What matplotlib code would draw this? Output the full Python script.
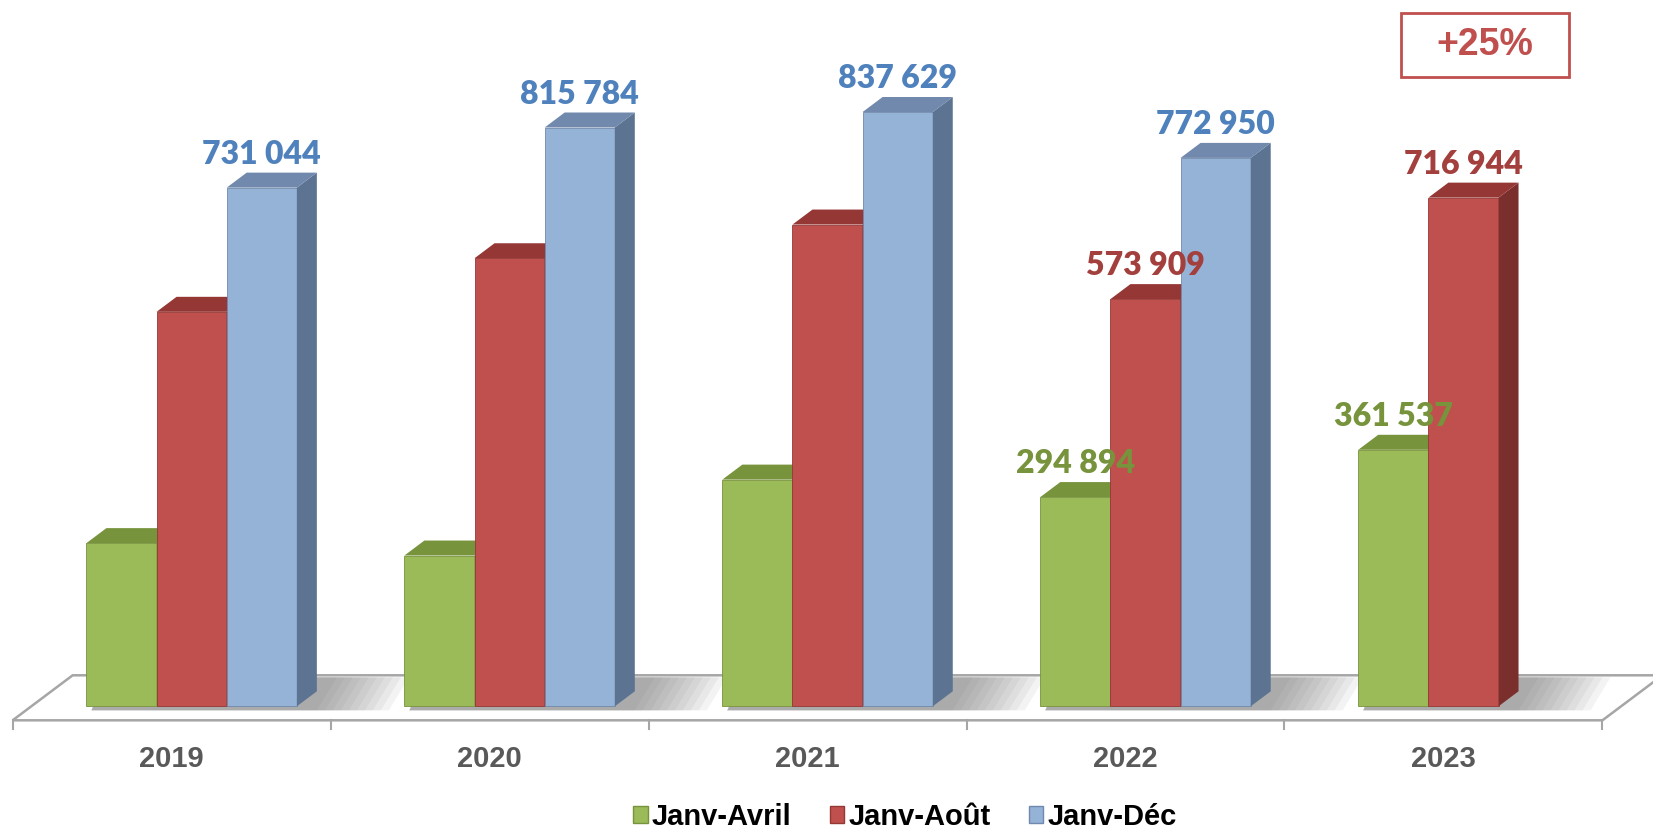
import matplotlib.pyplot as plt
from matplotlib.patches import Polygon, Rectangle, Patch
import numpy as np

# data read off the picture (values without a label are estimated from bar heights)
years = ['2019', '2020', '2021', '2022', '2023']
janv_avril = [230000, 212500, 319500, 294894, 361537]
janv_aout = [556000, 631500, 679000, 573909, 716944]
janv_dec = [731044, 815784, 837629, 772950, np.nan]
show_avril = [False, False, False, True, True]
show_aout = [False, False, False, True, True]
show_dec = [True, True, True, True, False]
series_names = ['Janv-Avril', 'Janv-Août', 'Janv-Déc']

front_cols = ['#9BBB59', '#C0504D', '#95B3D7']
top_cols = ['#77933C', '#953735', '#7089AC']
side_cols = ['#6F8A37', '#7B2F2C', '#5C7391']
lab_cols = ['#77933C', '#A33F3C', '#4F81BD']

W, H = 1653, 836
fig = plt.figure(figsize=(W / 100, H / 100), dpi=100)
ax = fig.add_axes([0, 0, 1, 1])
ax.axis('off')
xlim = (-0.0398, 5.159)
ylim = (-182800, 995500)
ax.set_xlim(xlim)
ax.set_ylim(ylim)
ux = (xlim[1] - xlim[0]) / W   # data units per pixel
uy = (ylim[1] - ylim[0]) / H

bw = 0.2206
first = 0.232
dx = 20 * ux
dy = 15 * uy

# floor
fy0 = -14 * uy
fy1 = 31 * uy
fdx = 60 * ux
floor = Polygon([(0, fy0), (5, fy0), (5 + fdx, fy1), (fdx, fy1)], closed=True,
                facecolor='white', edgecolor='#A6A6A6', lw=1.8, zorder=1)
ax.add_patch(floor)
for i in range(6):
    ax.plot([i, i], [fy0, fy0 - 9 * uy], color='#A6A6A6', lw=1.5, zorder=1)

for i, y in enumerate(years):
    ax.text(i + 0.5, -74000, y, ha='center', va='center', fontsize=21,
            fontweight='bold', color='#595959', family='Liberation Sans')

all_series = [janv_avril, janv_aout, janv_dec]
shows = [show_avril, show_aout, show_dec]

for i in range(len(years)):
    # soft shadow on the floor
    n_bars = sum(1 for s in all_series if not np.isnan(s[i]))
    gl = i + first
    gr = gl + n_bars * bw + dx
    for k in range(10):
        ax.add_patch(Polygon([(gl + 5 * ux, -4 * uy), (gr + k * 8 * ux, -4 * uy),
                              (gr + k * 8 * ux + 20 * ux, fy1 - 2 * uy),
                              (gl + 20 * ux, fy1 - 2 * uy)],
                             closed=True, facecolor='#6F6F6F', alpha=0.08,
                             lw=0, zorder=2))
    for s, vals in enumerate(all_series):
        v = vals[i]
        if np.isnan(v):
            continue
        x0 = i + first + s * bw
        x1 = x0 + bw
        z = 3 + s
        ax.bar(x0, v, width=bw, align='edge', color=front_cols[s],
               edgecolor=top_cols[s], lw=0.6, zorder=z)
        ax.add_patch(Polygon([(x1, 0), (x1 + dx, dy), (x1 + dx, v + dy), (x1, v)],
                             closed=True, facecolor=side_cols[s], lw=0, zorder=z))
        ax.add_patch(Polygon([(x0, v), (x0 + dx, v + dy), (x1 + dx, v + dy), (x1, v)],
                             closed=True, facecolor=top_cols[s], lw=0, zorder=z))
        if shows[s][i]:
            ax.text((x0 + x1) / 2, v + dy + 4 * uy, f'{int(v):,}'.replace(',', ' '),
                    ha='center', va='bottom', fontsize=23, fontweight='heavy',
                    color=lab_cols[s], family='Lato', zorder=10)

# +25% box
ax.add_patch(Rectangle((1401 / W, 1 - 77 / H), 168 / W, 64 / H, transform=ax.transAxes,
                       fill=False, edgecolor='#C0504D', lw=2, zorder=10))
ax.text(1485 / W, 1 - 45 / H, '+25%', transform=ax.transAxes, ha='center',
        va='center', fontsize=27, fontweight='bold', color='#C0504D',
        family='Liberation Sans', zorder=11)

handles = [Patch(facecolor=front_cols[s], edgecolor=top_cols[s]) for s in range(3)]
ax.legend(handles, series_names, loc='center', bbox_to_anchor=(905 / W, 19 / H),
          bbox_transform=fig.transFigure, ncol=3, frameon=False,
          handlelength=0.5, handleheight=0.5, handletextpad=0.15, columnspacing=1.3,
          prop={'family': 'Liberation Sans', 'weight': 'bold', 'size': 21})

fig.savefig('out.png', dpi=100)
